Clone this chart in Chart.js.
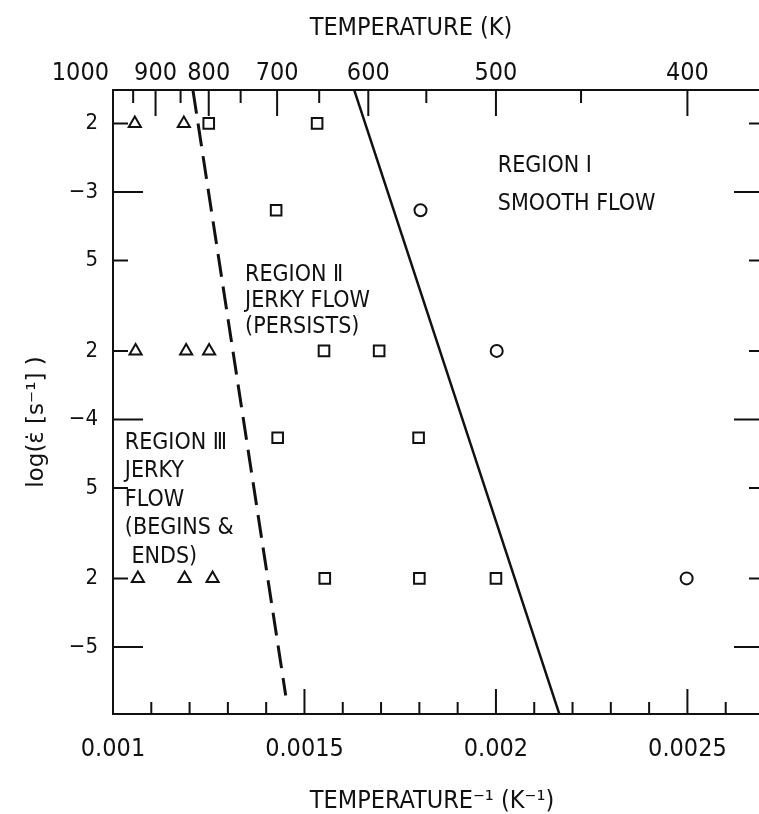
<!DOCTYPE html>
<html>
<head>
<meta charset="utf-8">
<script src="https://cdn.jsdelivr.net/npm/chart.js@4.4.1/dist/chart.umd.min.js"></script>
<style>
  html, body { margin: 0; padding: 0; background: #fff; overflow: hidden; }
  #wrap { width: 790px; height: 814px; }
</style>
</head>
<body>
<div id="wrap"><canvas id="chart" width="790" height="814"></canvas></div>
<script>
// values: x = 1/T (K^-1), y = strain rate (s^-1)
const triX    = [0.001057, 0.001185, 0.001059, 0.001191, 0.001251, 0.001065, 0.001187, 0.00126];
const triRate = [2e-3, 2e-3, 2e-4, 2e-4, 2e-4, 2e-5, 2e-5, 2e-5];

const sqX    = [0.00125, 0.001533, 0.001426, 0.001551, 0.001695, 0.00143, 0.001798, 0.001553, 0.0018, 0.002];
const sqRate = [2e-3, 2e-3, 8.3e-4, 2e-4, 2e-4, 8.3e-5, 8.3e-5, 2e-5, 2e-5, 2e-5];

const circX    = [0.001803, 0.002002, 0.002498];
const circRate = [8.3e-4, 2e-4, 2e-5];

// region boundaries (end points)
const solidX    = [0.00163, 0.002165];
const solidRate = [2.8e-3, 5.1e-6];
const dashX     = [0.001209, 0.001451];
const dashRate  = [2.78e-3, 6.12e-6];

// axes
const xMin = 0.001, xMax = 0.0027;
const yMin = 5.07e-6, yMax = 2.805e-3;
const xTickValues = [0.001, 0.0015, 0.002, 0.0025];
const xTickLabels = ['0.001', '0.0015', '0.002', '0.0025'];
const xTickMarks  = [0.0011, 0.0012, 0.0013, 0.0014, 0.0015, 0.0016, 0.0017, 0.0018, 0.0019,
                     0.002, 0.0021, 0.0022, 0.0023, 0.0024, 0.0025, 0.0026];
const yTickValues = [1e-5, 2e-5, 5e-5, 1e-4, 2e-4, 5e-4, 1e-3, 2e-3];
const yTickLabels = ['\u22125', '2', '5', '\u22124', '2', '5', '\u22123', '2'];
const tempMarks  = [950, 900, 850, 800, 750, 700, 650, 600, 550, 500, 450, 400];
const tempLabels = [1000, 900, 800, 700, 600, 500, 400];

const FONT = '"DejaVu Sans Condensed", "DejaVu Sans", sans-serif';
const INK = '#111';

const notes = [
  { x: 0.002005, y: 1.30e-3, gap: 38, lines: ['REGION \u2160', 'SMOOTH FLOW'] },
  { x: 0.001345, y: 4.30e-4, gap: 26, lines: ['REGION \u2161', 'JERKY FLOW', '(PERSISTS)'] },
  { x: 0.001031, y: 7.88e-5, gap: 28.5, lines: ['REGION \u2162', 'JERKY', 'FLOW', '(BEGINS &', ' ENDS)'] },
];

const pts = (xs, ys) => xs.map((v, i) => ({ x: v, y: ys[i] }));

// inward tick marks, top labels, titles and region notes
const decor = {
  id: 'decor',
  afterDraw(chart) {
    const { ctx, chartArea: a, scales: { x, y } } = chart;
    ctx.save();
    ctx.strokeStyle = INK;
    ctx.lineWidth = 2;
    ctx.beginPath();
    xTickMarks.forEach(v => {
      const px = x.getPixelForValue(v);
      const len = xTickValues.includes(v) ? 25 : 12;
      ctx.moveTo(px, a.bottom); ctx.lineTo(px, a.bottom - len);
    });
    tempMarks.forEach(t => {
      const px = x.getPixelForValue(1 / t);
      const len = t % 100 === 0 ? 26 : 13;
      ctx.moveTo(px, a.top); ctx.lineTo(px, a.top + len);
    });
    yTickValues.forEach((v, i) => {
      const py = y.getPixelForValue(v);
      const len = yTickLabels[i].startsWith('\u2212') ? 30 : 15;
      ctx.moveTo(a.left, py); ctx.lineTo(a.left + len, py);
      ctx.moveTo(a.right, py); ctx.lineTo(a.right - len, py);
    });
    ctx.stroke();

    ctx.fillStyle = INK;
    ctx.textBaseline = 'middle';
    ctx.font = '25px ' + FONT;
    tempLabels.forEach(t => {
      const px = x.getPixelForValue(1 / t);
      ctx.textAlign = t === 1000 ? 'right' : 'center';
      ctx.fillText(String(t), px - (t === 1000 ? 4 : 0), a.top - 17);
    });

    ctx.textAlign = 'center';
    ctx.font = '25px ' + FONT;
    ctx.fillText('TEMPERATURE (K)', 411, 28);
    ctx.fillText('TEMPERATURE\u207B\u00B9 (K\u207B\u00B9)', 432, 801);

    ctx.save();
    ctx.translate(37, 422);
    ctx.rotate(-Math.PI / 2);
    ctx.font = '23px "DejaVu Sans", sans-serif';
    ctx.fillText('log(\u03B5\u0307 [s\u207B\u00B9] )', 0, 0);
    ctx.restore();

    ctx.textAlign = 'left';
    ctx.font = '23px ' + FONT;
    notes.forEach(n => {
      const px = x.getPixelForValue(n.x);
      const py = y.getPixelForValue(n.y);
      n.lines.forEach((s, i) => ctx.fillText(s, px, py + i * n.gap));
    });
    ctx.restore();
  }
};

const axisBorder = { display: true, color: INK, width: 2 };

new Chart(document.getElementById('chart'), {
  type: 'scatter',
  data: {
    datasets: [
      { data: pts(triX, triRate), pointStyle: 'triangle', pointRadius: 7, borderWidth: 2,
        borderColor: INK, backgroundColor: '#fff' },
      { data: pts(sqX, sqRate), pointStyle: 'rect', pointRadius: 7.5, borderWidth: 2,
        borderColor: INK, backgroundColor: '#fff' },
      { data: pts(circX, circRate), pointStyle: 'circle', pointRadius: 6, borderWidth: 2,
        borderColor: INK, backgroundColor: '#fff' },
      { data: pts(solidX, solidRate), showLine: true, pointRadius: 0, borderWidth: 2.5,
        borderColor: INK },
      { data: pts(dashX, dashRate), showLine: true, pointRadius: 0, borderWidth: 3,
        borderColor: INK, borderDash: [23, 10] }
    ]
  },
  options: {
    responsive: false,
    animation: false,
    layout: { padding: 0 },
    plugins: { legend: { display: false }, tooltip: { enabled: false } },
    scales: {
      x: {
        type: 'linear', position: 'bottom', min: xMin, max: xMax,
        grid: { display: false }, border: axisBorder,
        afterBuildTicks: s => { s.ticks = xTickValues.map(v => ({ value: v })); },
        afterFit: s => { s.height = 100; },
        ticks: {
          color: INK, font: { family: FONT, size: 25 }, padding: 12,
          maxRotation: 0, autoSkip: false,
          callback: (v, i) => xTickLabels[i]
        }
      },
      x2: {
        type: 'linear', position: 'top', min: xMin, max: xMax,
        grid: { display: false }, border: axisBorder,
        ticks: { display: false },
        afterFit: s => { s.height = 90; }
      },
      y: {
        type: 'logarithmic', position: 'left', min: yMin, max: yMax,
        grid: { display: false }, border: axisBorder,
        afterBuildTicks: s => { s.ticks = yTickValues.map(v => ({ value: v })); },
        afterFit: s => { s.width = 113; },
        ticks: {
          color: INK, font: { family: FONT, size: 22 }, padding: 7, autoSkip: false,
          callback: (v, i) => yTickLabels[i]
        }
      },
      y2: {
        type: 'logarithmic', position: 'right', min: yMin, max: yMax,
        grid: { display: false }, border: axisBorder,
        ticks: { display: false },
        afterFit: s => { s.width = 26; }
      }
    }
  },
  plugins: [decor]
});
</script>
</body>
</html>
